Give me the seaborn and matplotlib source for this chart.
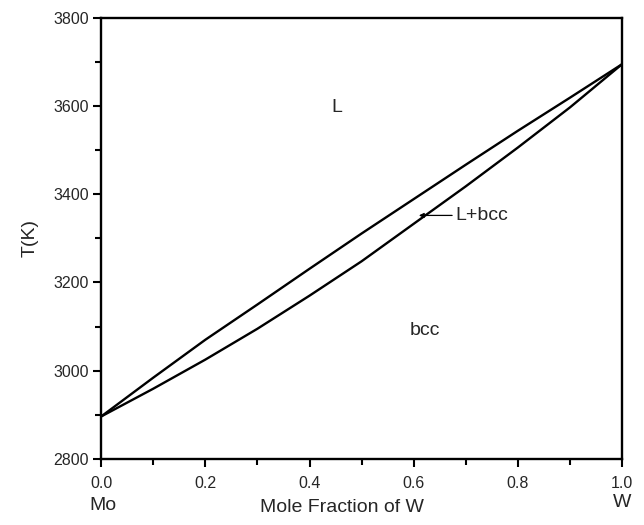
import numpy as np
import pandas as pd
import matplotlib
matplotlib.use('Agg')
import matplotlib.pyplot as plt
from matplotlib.ticker import MultipleLocator, FormatStrFormatter
import seaborn as sns

# Mo-W binary phase diagram
x_w = [0.0, 0.1, 0.2, 0.3, 0.4, 0.5, 0.6, 0.7, 0.8, 0.9, 1.0]
liquidus = [2896, 2984, 3070, 3150, 3231, 3311, 3389, 3467, 3544, 3619, 3695]
solidus = [2896, 2959, 3025, 3095, 3170, 3248, 3333, 3418, 3506, 3597, 3695]

sns.set_theme(style='ticks')
plt.rcParams['font.family'] = ['Liberation Sans', 'DejaVu Sans']

df = pd.DataFrame({'x': x_w + x_w,
                   'T': liquidus + solidus,
                   'curve': ['liquidus'] * len(x_w) + ['solidus'] * len(x_w)})

fig = plt.figure(figsize=(6.44, 5.25), dpi=100)
ax = fig.add_axes([0.157, 0.126, 0.809, 0.840])
sns.lineplot(data=df, x='x', y='T', units='curve', estimator=None,
             color='black', lw=1.7, ax=ax, legend=False)

ax.set_xlim(0, 1)
ax.set_ylim(2800, 3800)
ax.xaxis.set_major_locator(MultipleLocator(0.2))
ax.xaxis.set_minor_locator(MultipleLocator(0.1))
ax.yaxis.set_major_locator(MultipleLocator(200))
ax.yaxis.set_minor_locator(MultipleLocator(100))
ax.xaxis.set_major_formatter(FormatStrFormatter('%.1f'))
for s in ax.spines.values():
    s.set_linewidth(1.7)
    s.set_color('black')
ax.tick_params(which='major', length=6, width=1.5, labelsize=11.5, color='black')
ax.tick_params(which='minor', length=4, width=1.5, color='black')
ax.tick_params(axis='x', which='major', pad=6)
ax.tick_params(axis='y', which='major', pad=3)

ax.set_xlabel('Mole Fraction of W', fontsize=14)
ax.set_ylabel('T(K)', fontsize=14)
ax.xaxis.set_label_coords(0.463, -0.092)
ax.yaxis.set_label_coords(-0.119, 0.5)

ax.text(0.004, -0.106, 'Mo', transform=ax.transAxes, fontsize=14, ha='center', va='center')
ax.text(1.0, -0.1, 'W', transform=ax.transAxes, fontsize=14, ha='center', va='center')

ax.text(0.453, 3596, 'L', fontsize=14, ha='center', va='center')
ax.text(0.622, 3092, 'bcc', fontsize=14, ha='center', va='center')
ax.annotate('L+bcc', xy=(0.61, 3352), xytext=(0.68, 3352), fontsize=14,
            ha='left', va='center',
            arrowprops=dict(arrowstyle='-|>', color='black', lw=0.9,
                            mutation_scale=7, shrinkA=0, shrinkB=0))

fig.savefig('out.png', dpi=100)
